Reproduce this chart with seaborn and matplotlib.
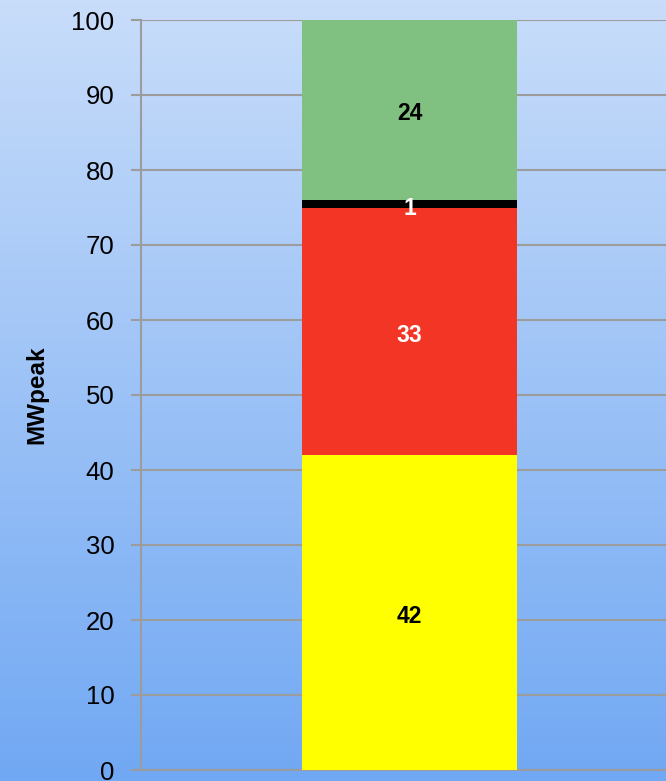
import numpy as np
import pandas as pd
import matplotlib
matplotlib.use("Agg")
import matplotlib.pyplot as plt
import seaborn as sns
from matplotlib.colors import LinearSegmentedColormap

# segments bottom -> top
labels = ["42", "33", "1", "24"]
values = [42, 33, 1, 24]
colors = ["#FFFF00", "#F33526", "#000000", "#80C080"]
label_colors = ["black", "white", "white", "black"]
yticks = list(range(0, 101, 10))

sns.set_theme(style="white")
plt.rcParams['font.family'] = ['Liberation Sans', 'DejaVu Sans']

fig = plt.figure(figsize=(6.66, 7.81), dpi=100)

# gradient background over the whole figure
bg = fig.add_axes([0, 0, 1, 1], zorder=0)
cmap = LinearSegmentedColormap.from_list("bg", ["#C8DDFA", "#71A8F3"])
bg.imshow(np.linspace(0, 1, 256).reshape(-1, 1), aspect="auto", cmap=cmap,
          extent=[0, 1, 0, 1])
bg.set_axis_off()

W, H = 666, 781
ax = fig.add_axes([141 / W, (H - 770) / H, 537 / W, 750 / H], zorder=1)
ax.patch.set_alpha(0)

cum = np.cumsum(values)
df = pd.DataFrame({"cat": ["a"] * len(values), "top": cum})
# draw from the tallest cumulative bar down so each layer shows its segment
for i in range(len(values) - 1, -1, -1):
    sns.barplot(data=df.iloc[[i]], x="cat", y="top", color=colors[i],
                saturation=1, width=0.4, ax=ax, zorder=3, linewidth=0)

bottoms = cum - np.array(values)
for i, (lab, v) in enumerate(zip(labels, values)):
    ymid = bottoms[i] + v / 2 - 0.5
    if v < 3:
        ymid = bottoms[i] - 0.1
    ax.text(0, ymid, lab, ha="center", va="center", fontsize=16.5,
            fontweight="bold", color=label_colors[i], zorder=5)

ax.set_xlim(-0.5, 0.5)
ax.set_ylim(0, 100)
ax.set_yticks(yticks)
ax.set_xticks([])
ax.set_xlabel("")
ax.set_ylabel("MWpeak", fontsize=17.5, fontweight="bold", color="black",
              labelpad=17)
ax.yaxis.grid(True, color="#9C9C9C", linewidth=1.5, zorder=0)
ax.set_axisbelow(True)
ax.tick_params(axis="y", labelsize=18.5, labelcolor="black", length=7,
               width=1.5, color="#9C9C9C", pad=12, left=True)
for s in ["top", "right"]:
    ax.spines[s].set_visible(False)
for s in ["left", "bottom"]:
    ax.spines[s].set_color("#9C9C9C")
    ax.spines[s].set_linewidth(1.5)

fig.savefig("out.png", dpi=100)
